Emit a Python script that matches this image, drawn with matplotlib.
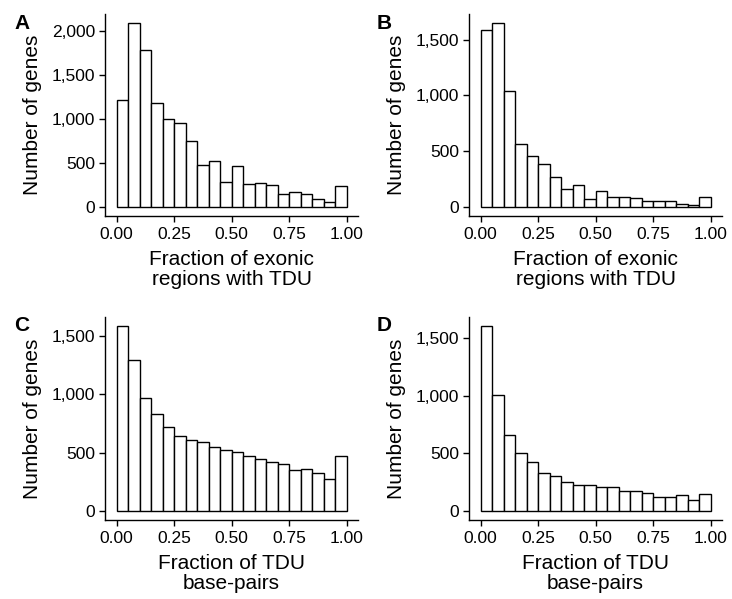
import numpy as np
import matplotlib
matplotlib.use("Agg")
import matplotlib.pyplot as plt
from matplotlib.ticker import FuncFormatter

plt.rcParams['font.family'] = ['Liberation Sans', 'DejaVu Sans']

# counts per bin (20 bins of width 0.05 over [0, 1])
counts_a = [1210, 2085, 1775, 1180, 996, 955, 748, 474, 523, 278,
            462, 259, 267, 252, 150, 173, 147, 86, 56, 233]
counts_b = [1586, 1649, 1042, 565, 452, 384, 268, 161, 193, 71,
            146, 86, 86, 77, 50, 50, 50, 24, 15, 89]
counts_c = [1586, 1297, 969, 834, 717, 643, 611, 594, 551, 523,
            506, 471, 443, 423, 403, 351, 363, 326, 277, 474]
counts_d = [1604, 1003, 662, 500, 428, 332, 303, 246, 228, 222,
            205, 205, 173, 173, 156, 121, 121, 136, 92, 142]

panel_letters = ["A", "B", "C", "D"]
xlabels = ["Fraction of exonic\nregions with TDU", "Fraction of exonic\nregions with TDU",
           "Fraction of TDU\nbase-pairs", "Fraction of TDU\nbase-pairs"]
yticks = [[0, 500, 1000, 1500, 2000], [0, 500, 1000, 1500],
          [0, 500, 1000, 1500], [0, 500, 1000, 1500]]
xticks = [0.0, 0.25, 0.5, 0.75, 1.0]

edges = np.linspace(0, 1, 21)

fig = plt.figure(figsize=(7.32, 5.99), dpi=100)
W, H = 732, 599
# axes boxes in pixels: left, top, right, bottom
boxes = [(105, 14, 358, 216), (469, 14, 722, 216),
         (105, 317, 358, 520), (469, 317, 722, 520)]
letter_pos = [(14, 14), (377, 14), (14, 316), (377, 316)]

data = [counts_a, counts_b, counts_c, counts_d]

for i, counts in enumerate(data):
    l, t, r, b = boxes[i]
    ax = fig.add_axes([l / W, (H - b) / H, (r - l) / W, (b - t) / H])
    ax.bar(edges[:-1], counts, width=0.05, align='edge', color='white',
           edgecolor='black', linewidth=1.0)
    ymax = max(counts)
    ax.set_xlim(-0.05, 1.05)
    ax.set_ylim(-0.05 * ymax, 1.05 * ymax)
    ax.set_xticks(xticks)
    ax.set_xticklabels(["%.2f" % v for v in xticks])
    ax.set_yticks(yticks[i])
    ax.yaxis.set_major_formatter(FuncFormatter(lambda v, p: format(int(v), ',')))
    for s in ['top', 'right']:
        ax.spines[s].set_visible(False)
    for s in ['left', 'bottom']:
        ax.spines[s].set_linewidth(1.0)
    ax.tick_params(length=4, width=1.0, labelsize=12.5, colors='black', pad=3)
    ax.tick_params(axis='x', pad=4)
    ax.set_xlabel(xlabels[i], fontsize=15, labelpad=6, linespacing=1.05)
    ax.set_ylabel("Number of genes", fontsize=15, labelpad=7)
    fig.text(letter_pos[i][0] / W, 1 - letter_pos[i][1] / H, panel_letters[i],
             fontsize=15, fontweight='bold', ha='left', va='top')

fig.savefig("out.png", dpi=100)
